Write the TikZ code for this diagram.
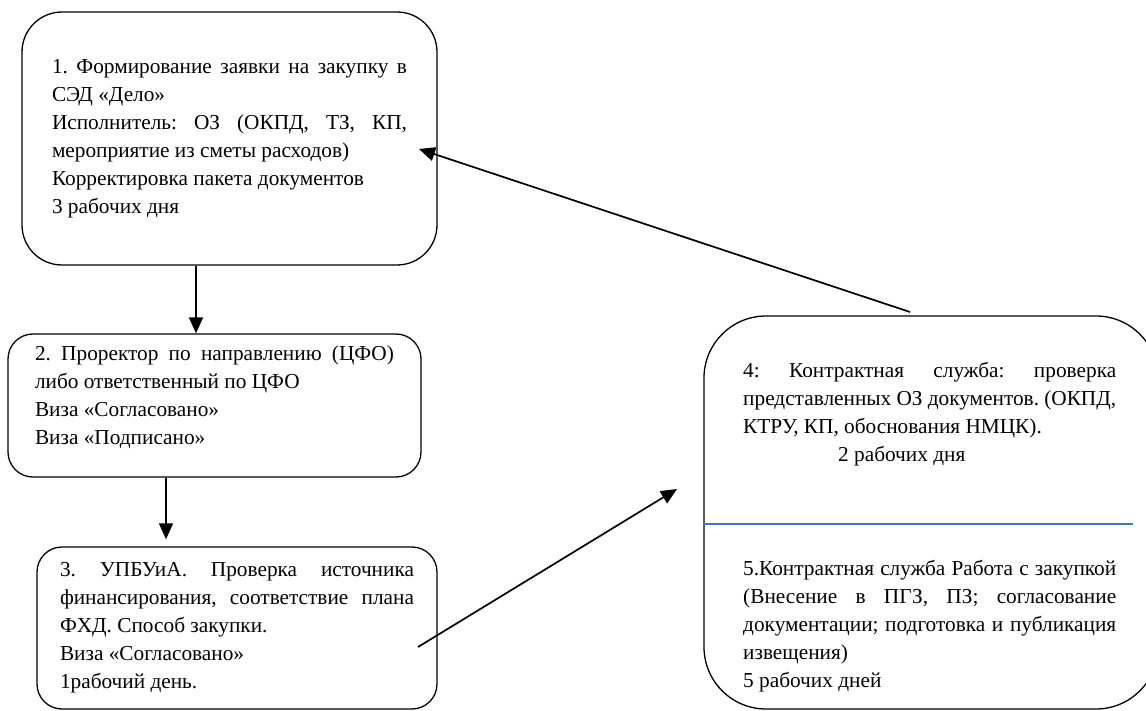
\documentclass[tikz,border=0pt]{standalone}
\usepackage{fontspec}
\setmainfont{Liberation Serif}
\usetikzlibrary{arrows.meta}
\usetikzlibrary{positioning}
\frenchspacing

\begin{document}
\begin{tikzpicture}[x=1pt,y=-1pt,
  stage/.style={draw=black,line width=1.3pt,rounded corners=#1,align=justify,inner sep=0pt,font=\fontsize{21.3pt}{28pt}\selectfont\frenchspacing},
  stage/.default=25pt,
  note/.style={align=justify,inner sep=0pt,text width=373pt,font=\fontsize{21.3pt}{28pt}\selectfont\frenchspacing},
  flow/.style={draw=black,line width=1.7pt,-{Triangle[length=16pt,width=14pt]}},
  divider/.style={draw={rgb,255:red,68;green,114;blue,196},line width=1.4pt}]
\useasboundingbox (0,0) rectangle (1146,711);

\node[stage=40pt,minimum width=415pt,minimum height=253pt,text width=355pt] (b1) at (229.5,138.5) {1. Формирование заявки на закупку в\linebreak СЭД «Дело»\\
Исполнитель: ОЗ (ОКПД, ТЗ, КП,\linebreak мероприятие из сметы расходов)\\
Корректировка пакета документов\\
3 рабочих дня};

\node[stage=25pt,minimum width=413pt,minimum height=143pt,text width=359pt] (b2) at (214.5,405.5) {2. Проректор по направлению (ЦФО)\linebreak либо ответственный по ЦФО\\
Виза «Согласовано»\\
Виза «Подписано»\par\vspace*{-8pt}\mbox{}};

\node[stage=25pt,minimum width=400pt,minimum height=162pt,text width=354pt] (b3) at (237,628) {3. УПБУиА. Проверка источника\linebreak финансирования, соответствие плана\linebreak ФХД. Способ закупки.\\
Виза «Согласовано»\\
1рабочий день.};

\node[stage=62pt,minimum width=454pt,minimum height=393pt] (b4) at (931,512.5) {};
\coordinate (d4) at (1133,524);
\draw[divider] (b4.west |- d4) -- (d4);

\node[note,anchor=north west] (t4) at (743,362) {4: Контрактная служба: проверка\linebreak представленных ОЗ документов. (ОКПД,\linebreak КТРУ, КП, обоснования НМЦК).\\
\hspace*{95pt}2 рабочих дня};
\node[note,anchor=north west] (t5) at (743,560) {5.Контрактная служба Работа с закупкой\linebreak (Внесение в ПГЗ, ПЗ; согласование\linebreak документации; подготовка и публикация\linebreak извещения)\\
5 рабочих дней};

\draw[flow] ([xshift=-33.5pt]b1.south) -- ([xshift=-18.5pt]b2.north);
\draw[flow] ([xshift=-48.5pt]b2.south) -- ([xshift=-71pt,yshift=7pt]b3.north);
\coordinate (s3) at (418,647);
\coordinate (e4) at (677,489);
\draw[flow] (s3) -- (e4);
\coordinate (s4) at (910,312);
\coordinate (e1) at (419,149);
\draw[flow] (s4) -- (e1);

\end{tikzpicture}
\end{document}
